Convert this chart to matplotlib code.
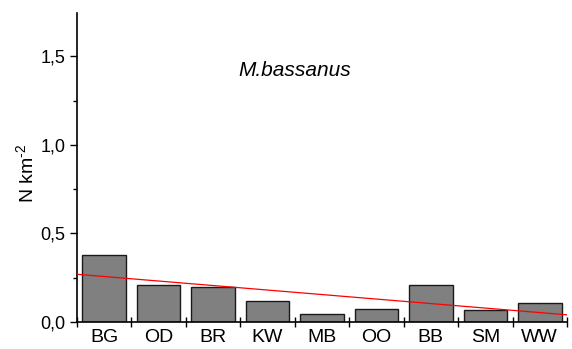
import matplotlib
matplotlib.use("Agg")
from matplotlib import pyplot as plt
from matplotlib.ticker import FixedLocator, MultipleLocator, FuncFormatter
import numpy as np

plt.rcParams['font.family'] = ['Liberation Sans', 'DejaVu Sans']
plt.rcParams['mathtext.fontset'] = 'custom'
plt.rcParams['mathtext.rm'] = 'Liberation Sans'

sites = ['BG', 'OD', 'BR', 'KW', 'MB', 'OO', 'BB', 'SM', 'WW']
density = [0.376, 0.207, 0.196, 0.117, 0.045, 0.075, 0.207, 0.066, 0.105]
species = 'M.bassanus'

x = np.arange(len(sites))
fig = plt.figure(figsize=(5.72, 3.49), dpi=100)
ax = fig.add_axes([0.1346, 0.0774, 0.8566, 0.8856])

ax.bar(x, density, width=0.8, color='#808080', edgecolor='#1a1a1a', linewidth=1.0, zorder=2)

# linear trend
k, b = np.polyfit(x, density, 1)
xl = np.array([-0.5, len(sites) - 0.5])
ax.plot(xl, k * xl + b, color='red', linewidth=0.9, zorder=3)

ax.set_xlim(-0.5, len(sites) - 0.5)
ax.set_ylim(0, 1.745)

ax.set_xticks(x)
ax.set_xticklabels(sites, fontsize=14)
ax.xaxis.set_minor_locator(FixedLocator(np.arange(-0.5, len(sites), 1.0)))
ax.tick_params(axis='x', which='major', length=0, pad=5)
ax.tick_params(axis='x', which='minor', direction='inout', length=7, width=1)

ax.yaxis.set_major_locator(MultipleLocator(0.5))
ax.yaxis.set_minor_locator(MultipleLocator(0.25))
ax.yaxis.set_major_formatter(FuncFormatter(lambda v, p: ('%.1f' % v).replace('.', ',')))
ax.tick_params(axis='y', which='major', direction='out', length=5, width=1, labelsize=13)
ax.tick_params(axis='y', which='minor', direction='out', length=3, width=1)

ax.spines['top'].set_visible(False)
ax.spines['right'].set_visible(False)
ax.spines['left'].set_linewidth(1.2)
ax.spines['bottom'].set_linewidth(1.2)

ax.set_ylabel(r'N km$^{\text{-2}}$', fontsize=14)
ax.yaxis.set_label_coords(-0.08, 0.48)
ax.text(3.5, 1.42, species, fontsize=15, style='italic', ha='center', va='center')

fig.savefig('out.png', dpi=100)
